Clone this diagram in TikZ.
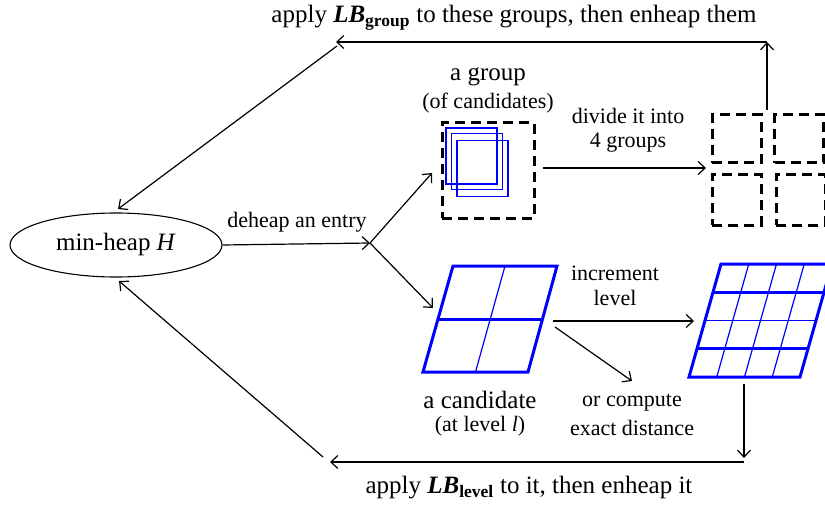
\documentclass[tikz,border=0pt]{standalone}
\usepackage{fontspec}
\setmainfont{Liberation Serif}
\usetikzlibrary{arrows.meta,shapes.geometric}
\tikzset{
  arr/.style={line width=1.2pt,-{Straight Barb[length=7pt,width=13pt,line width=1.2pt]}},
  big/.style={font=\fontsize{25}{30}\selectfont, inner sep=0pt},
  small/.style={font=\fontsize{22}{26}\selectfont, inner sep=0pt},
  dbox/.style={draw, line width=3pt, dash pattern=on 10pt off 6pt, inner sep=0pt},
  bsq/.style={draw=blue, line width=1.5pt, inner sep=0pt, minimum width=51pt, minimum height=56pt},
  thickb/.style={draw=blue, line width=3pt, line join=miter},
  thinb/.style={draw=blue, line width=1.2pt},
}
\begin{document}
\begin{tikzpicture}[x=1pt,y=-1pt]
\useasboundingbox (0,0) rectangle (825,508);

% heap
\node[draw, ellipse, line width=1.1pt, minimum width=212pt, minimum height=64pt, inner sep=0pt] (heap) at (116,245) {};
\node[big] (heaptxt) at (116,244) {min-heap \textit{H}};

% branching
\coordinate (b) at (370,243);
\node[small] (deh) at (297,222) {deheap an entry};
\draw[arr] (heap.east) -- (b);
\coordinate (gIn) at (432,173);
\coordinate (cIn) at (433,308);
\draw[arr] (b) -- (gIn);
\draw[arr] (b) -- (cIn);

% group
\node[dbox, minimum width=92pt, minimum height=95pt] (grp) at (488,170.5) {};
\node[bsq] (s1) at (471.5,156) {};
\node[bsq] (s2) at (477,161.5) {};
\node[bsq] (s3) at (482.5,168.5) {};
\node[big] (agroup) at (488,77) {a group};
\node[small] (ofc) at (488,103) {(of candidates)};

% divide
\coordinate (dA) at (543,168);
\coordinate (dB) at (706,168);
\draw[arr] (dA) -- (dB);
\node[small] (div1) at (628,116) {divide it into};
\node[small] (div2) at (628,143) {4 groups};

% four groups
\node[dbox, minimum width=49pt, minimum height=48pt] (q1) at (736.5,139) {};
\node[dbox, minimum width=49pt, minimum height=48pt] (q2) at (799,139) {};
\node[dbox, minimum width=49pt, minimum height=50pt] (q3) at (736.5,200) {};
\node[dbox, minimum width=49pt, minimum height=50pt] (q4) at (800.5,200) {};

% top return path
\coordinate (uA) at (767,110);
\coordinate (uB) at (767,42);
\coordinate (hL) at (336,42);
\coordinate (dS) at (337,46);
\coordinate (hTop) at (118,209);
\draw[arr] (uA) -- (uB);
\draw[arr] (uB) -- (hL);
\draw[arr] (dS) -- (hTop);
\node[big] (toptxt) at (514,18) {apply \textbf{\textit{LB}}\textsubscript{\textbf{group}} to these groups, then enheap them};

% candidate
\coordinate (c1) at (453,266);
\coordinate (c2) at (557,266);
\coordinate (c3) at (528,372);
\coordinate (c4) at (423,372);
\draw[thinb] (505,266) -- (475.5,372);
\draw[thickb] (438.5,319) -- (542.5,319);
\draw[thickb] (c1) -- (c2) -- (c3) -- (c4) -- cycle;
\node[big] (acand) at (480,400) {a candidate};
\node[small] (atl) at (480,426) {(at level \textit{l})};

% increment / compute
\coordinate (iA) at (553,321);
\coordinate (iB) at (694,321);
\coordinate (eA) at (555,327);
\coordinate (eB) at (632,381);
\draw[arr] (iA) -- (iB);
\draw[arr] (eA) -- (eB);
\node[small] (inc1) at (615,273) {increment};
\node[small] (inc2) at (615,298) {level};
\node[small] (oc1) at (632,403) {or compute};
\node[small] (oc2) at (632,428) {exact distance};

% fine candidate
\foreach \k in {1,2,3}{
  \draw[thinb] ({721+27.75*\k},264) -- ({689+27.75*\k},377);
}
\draw[thinb] (705,320.5) -- (816,320.5);
\draw[thickb] (713,292.25) -- (824,292.25);
\draw[thickb] (697,348.75) -- (808,348.75);
\draw[thickb] (721,264) -- (832,264) -- (800,377) -- (689,377) -- cycle;

% bottom return path
\coordinate (vA) at (744,384);
\coordinate (vB) at (744,458);
\coordinate (bR) at (744,462);
\coordinate (bL) at (330,462);
\coordinate (bS) at (323,457);
\coordinate (hBot) at (119,281);
\draw[arr] (vA) -- (vB);
\draw[arr] (bR) -- (bL);
\draw[arr] (bS) -- (hBot);
\node[big] (bottxt) at (529,488) {apply \textbf{\textit{LB}}\textsubscript{\textbf{level}} to it, then enheap it};
\end{tikzpicture}
\end{document}
